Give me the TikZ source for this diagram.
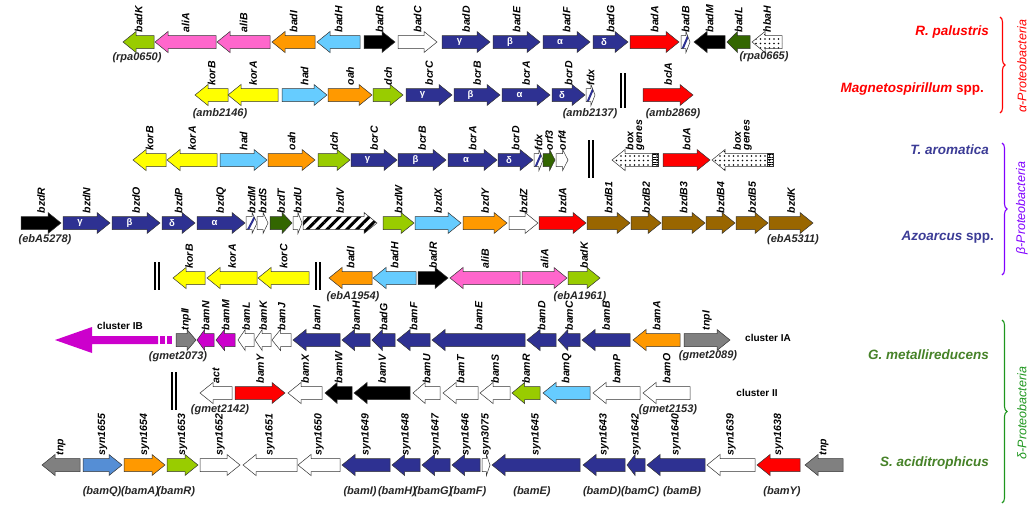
\documentclass[tikz,border=0pt]{standalone}
\usepackage{fontspec}
\setmainfont{Liberation Sans}
\usetikzlibrary{patterns,patterns.meta,decorations.pathreplacing,calc}

\definecolor{bcrblue}{RGB}{46,49,146}
\definecolor{alipink}{RGB}{255,102,204}
\definecolor{badorange}{RGB}{255,153,0}
\definecolor{hadblue}{RGB}{102,204,255}
\definecolor{dchgreen}{RGB}{153,204,0}
\definecolor{orfgreen}{RGB}{51,102,0}
\definecolor{koryellow}{RGB}{255,255,0}
\definecolor{bclred}{RGB}{255,0,0}
\definecolor{bzdbrown}{RGB}{153,102,0}
\definecolor{ibmagenta}{RGB}{204,0,204}
\definecolor{tnpgray}{RGB}{128,128,128}
\definecolor{bamqblue}{RGB}{85,142,213}
\definecolor{alphared}{RGB}{255,0,0}
\definecolor{betapurple}{RGB}{128,0,255}
\definecolor{taroblue}{RGB}{60,60,150}
\definecolor{deltagreen}{RGB}{70,130,40}
\definecolor{bracegreen}{RGB}{30,150,30}

\tikzset{
    gene/.style={draw=black!80, line width=0.5pt, line join=miter},
    navy/.style={gene, fill=bcrblue},
    pink/.style={gene, fill=alipink},
    orng/.style={gene, fill=badorange},
    lblue/.style={gene, fill=hadblue},
    lime/.style={gene, fill=dchgreen},
    dgreen/.style={gene, fill=orfgreen},
    yell/.style={gene, fill=koryellow},
    rred/.style={gene, fill=bclred},
    brown/.style={gene, fill=bzdbrown},
    magn/.style={gene, fill=ibmagenta},
    gray/.style={gene, fill=tnpgray},
    cblue/.style={gene, fill=bamqblue},
    blk/.style={gene, fill=black},
    wht/.style={gene, fill=white},
    hatch/.style={gene, fill=white, path picture={
        \draw[bcrblue, line width=2pt] (path picture bounding box.south west)
            -- (path picture bounding box.north east);}},
    spots/.style={gene, pattern={Dots[radius=0.9pt,distance=4.5pt]}},
    stripes/.style={gene, pattern={Lines[angle=45,distance=7pt,line width=3pt]}},
    glabel/.style={rotate=90, anchor=west, inner sep=1pt,
        font=\bfseries\itshape\fontsize{10.5}{10.5}\selectfont},
    greek/.style={text=white, inner sep=0pt, font=\bfseries\fontsize{9.5}{9.5}\selectfont},
    locus/.style={inner sep=1pt, text=black!85,
        font=\bfseries\itshape\fontsize{11}{12}\selectfont},
    organism/.style={anchor=east, inner sep=1pt,
        font=\bfseries\itshape\fontsize{13.5}{14}\selectfont},
    phylum/.style={rotate=90, inner sep=1pt, font=\itshape\fontsize{12.5}{13}\selectfont},
    clusterlab/.style={inner sep=1pt, font=\bfseries\fontsize{10}{11}\selectfont},
    brkline/.style={line width=1.2pt},
    phybrace/.style={decorate, decoration={brace, amplitude=5pt}, line width=1.1pt}
}

\newcount\genecnt
% \gene[greek]{style}{x left}{x right}{y}{r/l}{label}
\newcommand{\gene}[7][]{%
    \global\advance\genecnt by 1
    \pgfmathsetmacro{\ghd}{min(13,0.45*(#4-#3))}%
    \if r#6
        \draw[#2] (#3,#5-6.5) -- ({#4-\ghd},#5-6.5) -- ({#4-\ghd},#5-10.5) -- (#4,#5)
            -- ({#4-\ghd},#5+10.5) -- ({#4-\ghd},#5+6.5) -- (#3,#5+6.5) -- cycle;
        \node[greek] (gk\the\genecnt) at ({(#3+#4-\ghd)/2},#5) {#1};
    \else
        \draw[#2] (#4,#5-6.5) -- ({#3+\ghd},#5-6.5) -- ({#3+\ghd},#5-10.5) -- (#3,#5)
            -- ({#3+\ghd},#5+10.5) -- ({#3+\ghd},#5+6.5) -- (#4,#5+6.5) -- cycle;
        \node[greek] (gk\the\genecnt) at ({(#3+#4+\ghd)/2},#5) {#1};
    \fi
    \node[glabel] (g\the\genecnt) at ({(#3+#4)/2},#5-8.5) {#7};
}
% double bar for a gap
\newcommand{\gap}[3]{%
    \draw[brkline] (#1,#2) -- (#1,#3);
    \draw[brkline] (#1+4,#2) -- (#1+4,#3);
}

\begin{document}
\begin{tikzpicture}[x=1pt, y=-1pt]
    \useasboundingbox (0,0) rectangle (1031,507);

    % R. palustris
    \gene{lime}{123}{154}{42}{l}{badK}
    \gene{pink}{155}{216}{42}{l}{aliA}
    \gene{pink}{217}{270}{42}{l}{aliB}
    \gene{orng}{272}{315}{42}{l}{badI}
    \gene{lblue}{317}{360}{42}{l}{badH}
    \gene{blk}{364}{395}{42}{r}{badR}
    \gene{wht}{398}{437}{42}{r}{badC}
    \gene[γ]{navy}{442}{490}{42}{r}{badD}
    \gene[β]{navy}{493}{540}{42}{r}{badE}
    \gene[α]{navy}{543}{590}{42}{r}{badF}
    \gene[δ]{navy}{593}{628}{42}{r}{badG}
    \gene{rred}{630}{679}{42}{r}{badA}
    \gene{hatch}{681}{690}{42}{r}{badB}
    \gene{blk}{694}{725}{42}{l}{badM}
    \gene{dgreen}{727}{750}{42}{l}{badL}
    \gene{spots}{752}{782}{42}{l}{hbaH}
    \node[locus] (rpa0650) at (137,58) {(rpa0650)};
    \node[locus] (rpa0665) at (764,57) {(rpa0665)};

    % Magnetospirillum
    \gene{yell}{195}{228}{95}{l}{korB}
    \gene{yell}{228}{278}{95}{l}{korA}
    \gene{lblue}{282}{327}{95}{r}{had}
    \gene{orng}{328}{372}{95}{r}{oah}
    \gene{lime}{373}{403}{95}{r}{dch}
    \gene[γ]{navy}{406}{452}{95}{r}{bcrC}
    \gene[β]{navy}{454}{500}{95}{r}{bcrB}
    \gene[α]{navy}{502}{550}{95}{r}{bcrA}
    \gene[δ]{navy}{552}{585}{95}{r}{bcrD}
    \gene{hatch}{586}{595}{95}{r}{fdx}
    \gap{621}{73}{108}
    \gene{rred}{643}{693}{95}{r}{bclA}
    \node[locus] (amb2146) at (220,114) {(amb2146)};
    \node[locus] (amb2137) at (590,114) {(amb2137)};
    \node[locus] (amb2869) at (673,114) {(amb2869)};

    % T. aromatica
    \gene{yell}{133}{166}{160}{l}{korB}
    \gene{yell}{167}{217}{160}{l}{korA}
    \gene{lblue}{220}{267}{160}{r}{had}
    \gene{orng}{268}{315}{160}{r}{oah}
    \gene{lime}{318}{350}{160}{r}{dch}
    \gene[γ]{navy}{351}{397}{160}{r}{bcrC}
    \gene[β]{navy}{398}{446}{160}{r}{bcrB}
    \gene[α]{navy}{448}{497}{160}{r}{bcrA}
    \gene[δ]{navy}{498}{533}{160}{r}{bcrD}
    \gene{hatch}{534}{543}{160}{r}{fdx}
    \gene{dgreen}{543}{555}{160}{r}{orf3}
    \gene{wht}{556}{568}{160}{r}{orf4}
    \gap{589}{140}{178}
    \gene{spots}{612}{658}{160}{l}{\shortstack[l]{box\\genes}}
    \draw[gene, pattern={Lines[angle=0,distance=2.5pt,line width=0.9pt]}] (652,153.5) rectangle (658,166.5);
    \gene{rred}{663}{710}{160}{r}{bclA}
    \gene{spots}{712}{773}{160}{l}{\shortstack[l]{box\\genes}}
    \draw[gene, pattern={Lines[angle=0,distance=2.5pt,line width=0.9pt]}] (767,153.5) rectangle (773,166.5);

    % Azoarcus, bzd cluster
    \gene{blk}{21}{61}{223}{r}{bzdR}
    \gene[γ]{navy}{63}{110}{223}{r}{bzdN}
    \gene[β]{navy}{112}{160}{223}{r}{bzdO}
    \gene[δ]{navy}{162}{195}{223}{r}{bzdP}
    \gene[α]{navy}{197}{245}{223}{r}{bzdQ}
    \gene{hatch}{246}{257}{223}{r}{bzdM}
    \gene{wht}{257}{268}{223}{r}{bzdS}
    \gene{dgreen}{270}{292}{223}{r}{bzdT}
    \gene{wht}{293}{302}{223}{r}{bzdU}
    \gene{stripes}{303}{377}{223}{r}{bzdV}
    \gene{lime}{383}{414}{223}{r}{bzdW}
    \gene{lblue}{415}{461}{223}{r}{bzdX}
    \gene{orng}{463}{507}{223}{r}{bzdY}
    \gene{wht}{509}{538}{223}{r}{bzdZ}
    \gene{rred}{539}{586}{223}{r}{bzdA}
    \gene{brown}{587}{630}{223}{r}{bzdB1}
    \gene{brown}{631}{661}{223}{r}{bzdB2}
    \gene{brown}{662}{705}{223}{r}{bzdB3}
    \gene{brown}{706}{735}{223}{r}{bzdB4}
    \gene{brown}{736}{768}{223}{r}{bzdB5}
    \gene{brown}{769}{813}{223}{r}{bzdK}
    \node[locus] (ebA5278) at (45,240) {(ebA5278)};
    \node[locus] (ebA5311) at (793,240) {(ebA5311)};

    % Azoarcus, kor and bad genes
    \gap{155}{262}{290}
    \gene{yell}{173}{205}{278}{l}{korB}
    \gene{yell}{207}{257}{278}{l}{korA}
    \gene{yell}{258}{309}{278}{l}{korC}
    \gap{316}{262}{290}
    \gene{orng}{329}{372}{278}{l}{badI}
    \gene{lblue}{373}{416}{278}{l}{badH}
    \gene{blk}{418}{448}{278}{r}{badR}
    \gene{pink}{450}{520}{278}{l}{aliB}
    \gene{pink}{522}{567}{278}{r}{aliA}
    \gene{lime}{568}{600}{278}{r}{badK}
    \node[locus] (ebA1954) at (353,297) {(ebA1954)};
    \node[locus] (ebA1961) at (580,297) {(ebA1961)};

    % G. metallireducens, cluster IA and IB
    \draw[magn, draw=none] (158,336) -- (92,336) -- (92,327) -- (55,340) -- (92,353) -- (92,344) -- (158,344) -- cycle;
    \fill[ibmagenta] (160,336) rectangle (165,344);
    \fill[ibmagenta] (167,336) rectangle (172,344);
    \node[clusterlab] (ib) at (120,326) {cluster IB};
    \gene{gray}{176}{196}{340}{r}{tnpII}
    \gene{magn}{197}{214}{340}{l}{bamN}
    \gene{magn}{216}{235}{340}{l}{bamM}
    \gene{wht}{238}{254}{340}{l}{bamL}
    \gene{wht}{255}{271}{340}{l}{bamK}
    \gene{wht}{272}{291}{340}{l}{bamJ}
    \gene{navy}{293}{340}{340}{l}{bamI}
    \gene{navy}{342}{370}{340}{l}{bamH}
    \gene{navy}{372}{395}{340}{l}{badG}
    \gene{navy}{397}{430}{340}{l}{bamF}
    \gene{navy}{432}{525}{340}{l}{bamE}
    \gene{navy}{527}{556}{340}{l}{bamD}
    \gene{navy}{558}{580}{340}{l}{bamC}
    \gene{navy}{582}{630}{340}{l}{bamB}
    \gene{orng}{633}{680}{340}{l}{bamA}
    \gene{gray}{684}{730}{340}{r}{tnpI}
    \node[clusterlab] (ia) at (768,338) {cluster IA};
    \node[locus] (gmet2073) at (178,357) {(gmet2073)};
    \node[locus] (gmet2089) at (708,356) {(gmet2089)};

    % G. metallireducens, cluster II
    \gap{172}{372}{410}
    \gene{wht}{200}{232}{393}{l}{act}
    \gene{rred}{235}{285}{393}{r}{bamY}
    \gene{wht}{288}{322}{393}{l}{bamX}
    \gene{blk}{325}{352}{393}{l}{bamW}
    \gene{blk}{354}{410}{393}{l}{bamV}
    \gene{wht}{413}{440}{393}{l}{bamU}
    \gene{wht}{443}{478}{393}{l}{bamT}
    \gene{wht}{480}{510}{393}{l}{bamS}
    \gene{lime}{512}{540}{393}{l}{bamR}
    \gene{lblue}{543}{590}{393}{l}{bamQ}
    \gene{wht}{593}{640}{393}{l}{bamP}
    \gene{wht}{643}{690}{393}{l}{bamO}
    \node[clusterlab] (cii) at (757,393) {cluster II};
    \node[locus] (gmet2142) at (220,410) {(gmet2142)};
    \node[locus] (gmet2153) at (668,410) {(gmet2153)};

    % S. aciditrophicus
    \gene{gray}{42}{80}{465}{l}{tnp}
    \gene{cblue}{83}{122}{465}{r}{syn1655}
    \gene{orng}{124}{165}{465}{r}{syn1654}
    \gene{lime}{167}{198}{465}{r}{syn1653}
    \gene{wht}{200}{240}{465}{r}{syn1652}
    \gene{wht}{243}{297}{465}{l}{syn1651}
    \gene{wht}{298}{340}{465}{l}{syn1650}
    \gene{navy}{342}{390}{465}{l}{syn1649}
    \gene{navy}{392}{420}{465}{l}{syn1648}
    \gene{navy}{422}{450}{465}{l}{syn1647}
    \gene{navy}{452}{480}{465}{l}{syn1646}
    \gene{wht}{482}{490}{465}{r}{syn3075}
    \gene{navy}{492}{580}{465}{l}{syn1645}
    \gene{navy}{583}{625}{465}{l}{syn1643}
    \gene{navy}{627}{645}{465}{l}{syn1642}
    \gene{navy}{647}{705}{465}{l}{syn1640}
    \gene{wht}{707}{755}{465}{l}{syn1639}
    \gene{rred}{757}{800}{465}{l}{syn1638}
    \gene{gray}{805}{843}{465}{l}{tnp}
    \foreach \xp/\bam in {102/bamQ, 140/bamA, 176/bamR, 360/bamI, 397/bamH, 433/bamG,
                          468/bamF, 532/bamE, 602/bamD, 640/bamC, 682/bamB, 782/bamY}{
        \node[locus] (s-\bam) at (\xp,492) {(\bam)};
    }

    % organisms
    \node[organism, text=alphared] (rpal) at (990,32) {R. palustris};
    \node[organism, text=alphared] (magn) at (985,89) {Magnetospirillum \textup{spp.}};
    \node[organism, text=taroblue] (taro) at (990,150) {T. aromatica};
    \node[organism, text=taroblue] (azo) at (995,237) {Azoarcus \textup{spp.}};
    \node[organism, text=deltagreen] (gmet) at (990,355) {G. metallireducens};
    \node[organism, text=deltagreen] (sacid) at (990,463) {S. aciditrophicus};

    % classes
    \draw[phybrace, alphared] (1000,17) -- (1000,113);
    \draw[phybrace, betapurple] (1002,143) -- (1002,275);
    \draw[phybrace, bracegreen] (1002,320) -- (1002,503);
    \node[phylum, text=alphared] (alpha) at (1022,66) {α-Proteobacteria};
    \node[phylum, text=betapurple] (beta) at (1022,208) {β-Proteobacteria};
    \node[phylum, text=bracegreen] (delta) at (1022,413) {δ-Proteobacteria};
\end{tikzpicture}
\end{document}
